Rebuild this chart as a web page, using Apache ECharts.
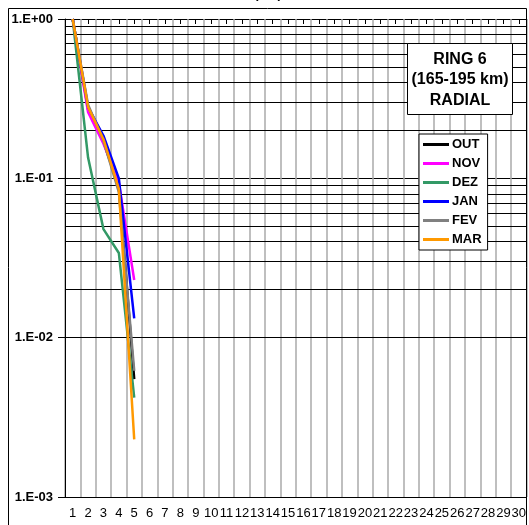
<!DOCTYPE html>
<html>
<head>
<meta charset="utf-8">
<script src="https://cdn.jsdelivr.net/npm/echarts@6/dist/echarts.min.js"></script>
<style>
  html, body { margin: 0; padding: 0; background: #fff; }
  #chart { width: 529px; height: 525px; }
</style>
</head>
<body>
<div id="chart"></div>
<script>
// Categories along the horizontal axis
const categories = Array.from({ length: 30 }, (_, i) => String(i + 1));

// Monthly radial profiles (first five positions measured)
const OUT = [1.0, 0.27, 0.17, 0.088, 0.0055];
const NOV = [1.0, 0.26, 0.165, 0.094, 0.023];
const DEZ = [1.0, 0.135, 0.048, 0.034, 0.0042];
const JAN = [1.0, 0.28, 0.185, 0.100, 0.0132];
const FEV = [1.0, 0.29, 0.172, 0.082, 0.0062];
const MAR = [1.0, 0.28, 0.176, 0.086, 0.0023];

const seriesNames = ['OUT', 'NOV', 'DEZ', 'JAN', 'FEV', 'MAR'];
const seriesValues = [OUT, NOV, DEZ, JAN, FEV, MAR];
const seriesColors = ['#000000', '#ff00ff', '#339966', '#0000ff', '#808080', '#ff9900'];

// Log axis range and the intermediate (2..9) grid values of each decade
const yMin = 0.001, yMax = 1;
const minorValues = [];
for (let d = yMin; d < yMax * 0.99; d *= 10) {
  for (let k = 2; k <= 9; k++) minorValues.push(+(k * d).toPrecision(3));
}

function expLabel(v) {
  const e = Math.round(Math.log10(v));
  const sign = e < 0 ? '-' : '+';
  const a = Math.abs(e);
  return '1.E' + sign + (a < 10 ? '0' + a : String(a));
}

const font = 'Arial, "Liberation Sans", sans-serif';

const chart = echarts.init(document.getElementById('chart'), null, { renderer: 'canvas' });

const lineSeries = seriesNames.map((name, i) => ({
  name,
  type: 'line',
  data: seriesValues[i],
  xAxisIndex: 0,
  showSymbol: false,
  symbol: 'none',
  lineStyle: { color: seriesColors[i], width: 2.5 },
  itemStyle: { color: seriesColors[i] },
  z: 10 + i,
  animation: false
}));

const option = {
  animation: false,
  backgroundColor: '#ffffff',
  grid: { left: 65, right: 2, top: 19, bottom: 28, containLabel: false },
  xAxis: [
    {
      type: 'category',
      data: categories,
      position: 'bottom',
      boundaryGap: true,
      axisLine: { show: true, lineStyle: { color: '#000', width: 1 } },
      axisTick: { show: false },
      axisLabel: { interval: 0, fontFamily: font, fontSize: 13, color: '#000', margin: 10 },
      splitLine: { show: true, interval: 0, lineStyle: { color: '#aaaaaa', width: 1.5 } }
    },
    {
      type: 'category',
      data: categories,
      position: 'top',
      boundaryGap: true,
      axisLine: { show: false },
      axisTick: { show: true, inside: true, length: 5, alignWithLabel: true, interval: 0,
                  lineStyle: { color: '#000', width: 1 } },
      axisLabel: { show: false },
      splitLine: { show: false }
    }
  ],
  yAxis: {
    type: 'log',
    logBase: 10,
    min: yMin,
    max: yMax,
    axisLine: { show: true, lineStyle: { color: '#000', width: 1 } },
    axisTick: { show: true, length: 7, lineStyle: { color: '#000', width: 1 } },
    axisLabel: { formatter: expLabel, fontFamily: font, fontSize: 13, fontWeight: 'bold', color: '#000', margin: 12 },
    splitLine: { show: true, lineStyle: { color: '#000', width: 1 } }
  },
  legend: {
    data: seriesNames,
    orient: 'vertical',
    left: 419,
    top: 134,
    z: 60,
    padding: [1, 6, 1, 4],
    itemGap: 0,
    itemWidth: 26,
    itemHeight: 3,
    icon: 'rect',
    backgroundColor: '#ffffff',
    borderColor: '#000',
    borderWidth: 1,
    borderRadius: 0,
    textStyle: { fontFamily: font, fontSize: 13, fontWeight: 'bold', color: '#000',
                 lineHeight: 19, padding: [0, 0, 0, -2] }
  },
  graphic: [
    {
      type: 'rect',
      shape: { x: 8.5, y: 8.5, width: 518, height: 540 },
      style: { fill: 'none', stroke: '#000', lineWidth: 1 },
      silent: true,
      z: 100
    },
    {
      type: 'text',
      x: 268,
      y: 1,
      style: { text: '(km)', font: 'bold 13px ' + font, fill: '#000',
               textAlign: 'center', textVerticalAlign: 'bottom', verticalAlign: 'bottom' },
      silent: true,
      z: 100
    },
    {
      type: 'rect',
      shape: { x: 407.5, y: 43.5, width: 105, height: 71 },
      style: { fill: '#ffffff', stroke: '#000', lineWidth: 1 },
      silent: true,
      z: 100
    },
    {
      type: 'text',
      x: 460,
      y: 80,
      style: { text: 'RING 6\n(165-195 km)\nRADIAL', font: 'bold 16px ' + font, fill: '#000',
               textAlign: 'center', textVerticalAlign: 'middle', verticalAlign: 'middle', lineHeight: 20.5 },
      silent: true,
      z: 101
    }
  ],
  series: [
    {
      name: '__grid',
      type: 'line',
      data: [],
      silent: true,
      z: 1,
      markLine: {
        silent: true,
        z: 1,
        symbol: 'none',
        animation: false,
        label: { show: false },
        lineStyle: { color: '#000', width: 1, type: 'solid' },
        emphasis: { disabled: true },
        data: minorValues.map(v => ({ yAxis: v }))
      }
    }
  ].concat(lineSeries)
};

chart.setOption(option);
</script>
</body>
</html>
